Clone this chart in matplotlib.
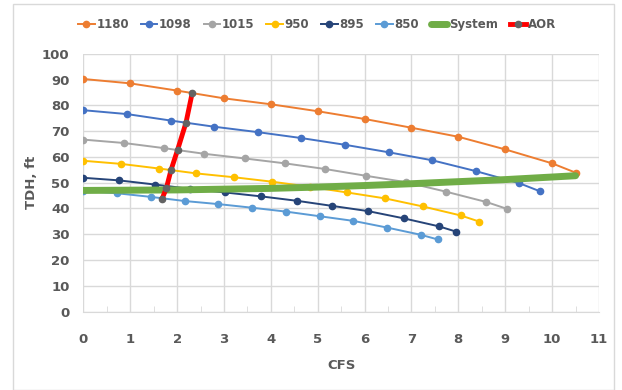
import matplotlib
matplotlib.use('Agg')
import matplotlib.pyplot as plt
from matplotlib.patches import Rectangle
from matplotlib.ticker import MultipleLocator

plt.rcParams['font.family'] = ['Liberation Sans Narrow', 'DejaVu Sans']

# Pump curves at each speed (rpm): flow (CFS) vs head (ft)
speeds = ['1180', '1098', '1015', '950', '895', '850']
colours = ['#ED7D31', '#4472C4', '#A5A5A5', '#FFC000', '#264478', '#5B9BD5']

cfs_1180 = [0, 1.0, 2.0, 3.0, 4.0, 5.0, 6.0, 7.0, 8.0, 9.0, 10.0, 10.5]
tdh_1180 = [90.2, 88.5, 85.7, 82.7, 80.4, 77.7, 74.7, 71.3, 67.8, 62.9, 57.5, 53.9]

cfs_1098 = [0, 0.93, 1.86, 2.79, 3.72, 4.65, 5.58, 6.51, 7.44, 8.37, 9.3, 9.75]
tdh_1098 = [78.1, 76.6, 74.1, 71.7, 69.6, 67.3, 64.7, 61.8, 58.7, 54.5, 49.8, 46.6]

cfs_1015 = [0, 0.86, 1.72, 2.58, 3.44, 4.3, 5.16, 6.02, 6.88, 7.74, 8.6, 9.03]
tdh_1015 = [66.7, 65.4, 63.4, 61.2, 59.4, 57.5, 55.3, 52.7, 50.2, 46.5, 42.5, 39.9]

cfs_950 = [0, 0.8, 1.61, 2.41, 3.22, 4.02, 4.83, 5.63, 6.44, 7.24, 8.05, 8.45]
tdh_950 = [58.5, 57.3, 55.5, 53.6, 52.1, 50.4, 48.4, 46.2, 43.9, 40.8, 37.3, 34.9]

cfs_895 = [0, 0.76, 1.52, 2.28, 3.03, 3.79, 4.55, 5.31, 6.07, 6.83, 7.58, 7.96]
tdh_895 = [51.9, 50.9, 49.3, 47.6, 46.2, 44.7, 43.0, 41.0, 39.0, 36.2, 33.1, 31.0]

cfs_850 = [0, 0.72, 1.44, 2.16, 2.88, 3.6, 4.32, 5.04, 5.76, 6.48, 7.2, 7.56]
tdh_850 = [46.8, 45.9, 44.5, 42.9, 41.7, 40.3, 38.8, 37.0, 35.2, 32.6, 29.8, 28.0]

pump_cfs = [cfs_1180, cfs_1098, cfs_1015, cfs_950, cfs_895, cfs_850]
pump_tdh = [tdh_1180, tdh_1098, tdh_1015, tdh_950, tdh_895, tdh_850]

# System curve
sys_cfs = [0, 1, 2, 3, 4, 5, 6, 7, 8, 9, 10, 10.5]
sys_tdh = [47.0, 47.1, 47.2, 47.5, 47.8, 48.3, 48.9, 49.6, 50.4, 51.2, 52.2, 52.7]

# Allowable operating region boundary
aor_cfs = [1.68, 1.77, 1.87, 2.01, 2.19, 2.32]
aor_tdh = [43.8, 47.8, 54.9, 62.7, 73.3, 84.6]

txt = '#595959'
grid = '#D9D9D9'

fig = plt.figure(figsize=(6.22, 3.9), dpi=100)
ax = fig.add_axes([0.134, 0.2008, 0.829, 0.6615])

for i in range(len(speeds)):
    ax.plot(pump_cfs[i], pump_tdh[i], color=colours[i], lw=1.4, marker='o',
            markersize=4.5, label=speeds[i], zorder=3)

ax.plot(sys_cfs, sys_tdh, color='#70AD47', lw=5, label='System', zorder=4,
        solid_capstyle='round')
ax.plot(aor_cfs, aor_tdh, color='#FF0000', lw=3.5, marker='o', markersize=4.5,
        markerfacecolor='#636363', markeredgecolor='#636363', label='AOR', zorder=5)

ax.set_xlim(0, 11)
ax.set_ylim(0, 100)
ax.xaxis.set_major_locator(MultipleLocator(1))
ax.xaxis.set_minor_locator(MultipleLocator(0.5))
ax.yaxis.set_major_locator(MultipleLocator(10))
ax.grid(True, which='major', color=grid, lw=1.0)
ax.set_axisbelow(True)

for s in ['top', 'right', 'left']:
    ax.spines[s].set_visible(False)
ax.spines['bottom'].set_color(grid)

ax.tick_params(axis='both', which='major', length=0, labelcolor=txt, labelsize=9.5)
ax.tick_params(axis='x', which='major', pad=15)
ax.tick_params(axis='y', which='major', pad=10)
ax.tick_params(axis='x', which='minor', direction='in', length=4, color=grid)
for lab in ax.get_xticklabels() + ax.get_yticklabels():
    lab.set_fontweight('bold')

ax.set_xlabel('CFS', color=txt, fontsize=9.5, fontweight='bold', labelpad=10)
ax.set_ylabel('TDH, ft', color=txt, fontsize=9.5, fontweight='bold', labelpad=3)

leg = ax.legend(loc='center', bbox_to_anchor=(0.51, 0.938), bbox_transform=fig.transFigure,
                ncol=8, frameon=False, handlelength=1.4, handletextpad=0.15,
                columnspacing=1.0, prop={'weight': 'bold', 'size': 8.5})
for t in leg.get_texts():
    t.set_color(txt)

# chart area border
fig.patches.append(Rectangle((12.5 / 622, 0), 601 / 622, 386 / 390,
                             transform=fig.transFigure, fill=False,
                             edgecolor=grid, lw=1.0))

fig.savefig('out.png', dpi=100)
